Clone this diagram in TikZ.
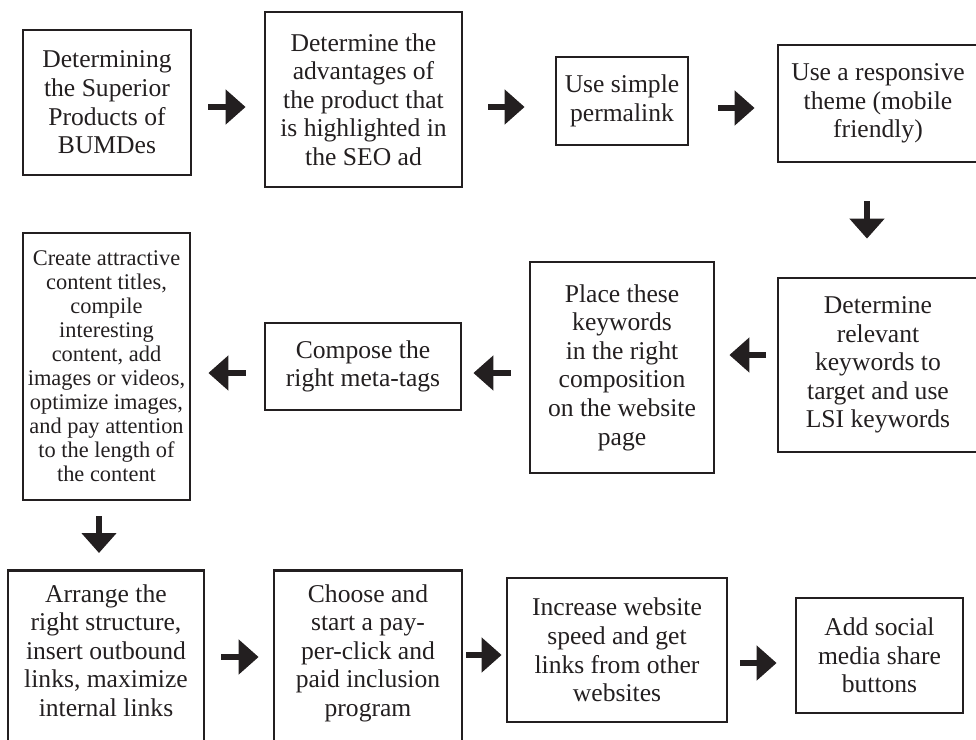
\documentclass[tikz,border=0pt]{standalone}
\usepackage{fontspec}
\setmainfont{Liberation Serif}
\usetikzlibrary{arrows.meta, positioning}
\definecolor{ink}{HTML}{231F20}

\begin{document}
\begin{tikzpicture}[
  x=0.5pt, y=-0.5pt,
  box/.style={draw=ink, line width=1.4pt, align=center, text=ink, inner sep=2pt, font=\fontsize{12.8}{14.3}\selectfont},
  openbox/.style={box, anchor=north, inner ysep=7pt},
  arr/.style={-{Triangle[length=10pt, width=17pt]}, line width=3pt, draw=ink}
]
\useasboundingbox (0,0) rectangle (976,740);
\clip (0,0) rectangle (976,740);

\node[box, minimum width=84pt, minimum height=72.5pt] (b1) at (107,102.5) {Determining\\the Superior\\Products of\\BUMDes};
\node[box, minimum width=98.5pt, minimum height=87.5pt] (b2) at (363.5,99.5) {Determine the\\advantages of\\the product that\\is highlighted in\\the SEO ad};
\node[box, minimum width=66pt, minimum height=44pt] (b3) at (622,101) {Use simple\\permalink};
\node[box, minimum width=100pt, minimum height=58.5pt] (b4) at (878,103.5) {Use a responsive\\theme (mobile\\friendly)};

\node[box, minimum width=100pt, minimum height=87pt] (b5) at (878,365) {Determine\\relevant\\keywords to\\target and use\\LSI keywords};
\node[box, minimum width=92pt, minimum height=105.5pt] (b6) at (622,367.5) {Place these\\keywords\\in the right\\composition\\on the website\\page};
\node[box, minimum width=98pt, minimum height=43.5pt] (b7) at (363,366.5) {Compose the\\right meta-tags};
\node[box, minimum width=83.5pt, minimum height=133.5pt, font=\fontsize{11.2}{12}\selectfont] (b8) at (106.5,366.5) {Create attractive\\content titles,\\compile\\interesting\\content, add\\images or videos,\\optimize images,\\and pay attention\\to the length of\\the content};

\node[openbox, minimum width=98pt] (b9) at (106,569) {Arrange the\\right structure,\\insert outbound\\links, maximize\\internal links\\\rule{0pt}{30pt}};
\node[openbox, minimum width=94pt] (b10) at (368,569) {Choose and\\start a pay-\\per-click and\\paid inclusion\\program\\\rule{0pt}{30pt}};
\node[box, minimum width=110pt, minimum height=72pt] (b11) at (617,650) {Increase website\\speed and get\\links from other\\websites};
\node[box, minimum width=83.5pt, minimum height=57.5pt] (b12) at (879.5,655.5) {Add social\\media share\\buttons};

\draw[arr, shorten <=8pt, shorten >=9pt] ([yshift=-2.25pt]b1.east) -- ([yshift=-2.25pt]b1.east -| b2.west);
\draw[arr, shorten <=12.5pt, shorten >=15pt] ([yshift=-3.75pt]b2.east) -- ([yshift=-3.75pt]b2.east -| b3.west);
\draw[arr, shorten <=14.5pt, shorten >=11pt] ([yshift=-3.5pt]b3.east) -- ([yshift=-3.5pt]b3.east -| b4.west);
\draw[arr, shorten <=19pt, shorten >=19pt] ([xshift=-5.5pt]b4.south) -- ([xshift=-5.5pt]b4.south |- b5.north);
\draw[arr, shorten <=5.5pt, shorten >=7pt] ([yshift=5pt]b5.west) -- ([yshift=5pt]b5.west -| b6.east);
\draw[arr, shorten <=9pt, shorten >=5.5pt] ([yshift=-2.75pt]b6.west) -- ([yshift=-2.75pt]b6.west -| b7.east);
\draw[arr, shorten <=9pt, shorten >=8.5pt] ([yshift=-3.25pt]b7.west) -- ([yshift=-3.25pt]b7.west -| b8.east);
\draw[arr, shorten <=7.5pt, shorten >=8pt] ([xshift=-3.75pt]b8.south) -- ([xshift=-3.75pt]b8.south |- b9.north);
\draw[arr, shorten <=8pt, shorten >=7pt] ([yshift=-44pt]b9.north east) -- ([yshift=-44pt]b9.north east -| b10.west);
\draw[arr, shorten <=1.5pt, shorten >=2pt] ([yshift=-43pt]b10.north east) -- ([yshift=-43pt]b10.north east -| b11.west);
\draw[arr, shorten <=6pt, shorten >=9pt] ([yshift=-6.5pt]b11.east) -- ([yshift=-6.5pt]b11.east -| b12.west);
\end{tikzpicture}
\end{document}
